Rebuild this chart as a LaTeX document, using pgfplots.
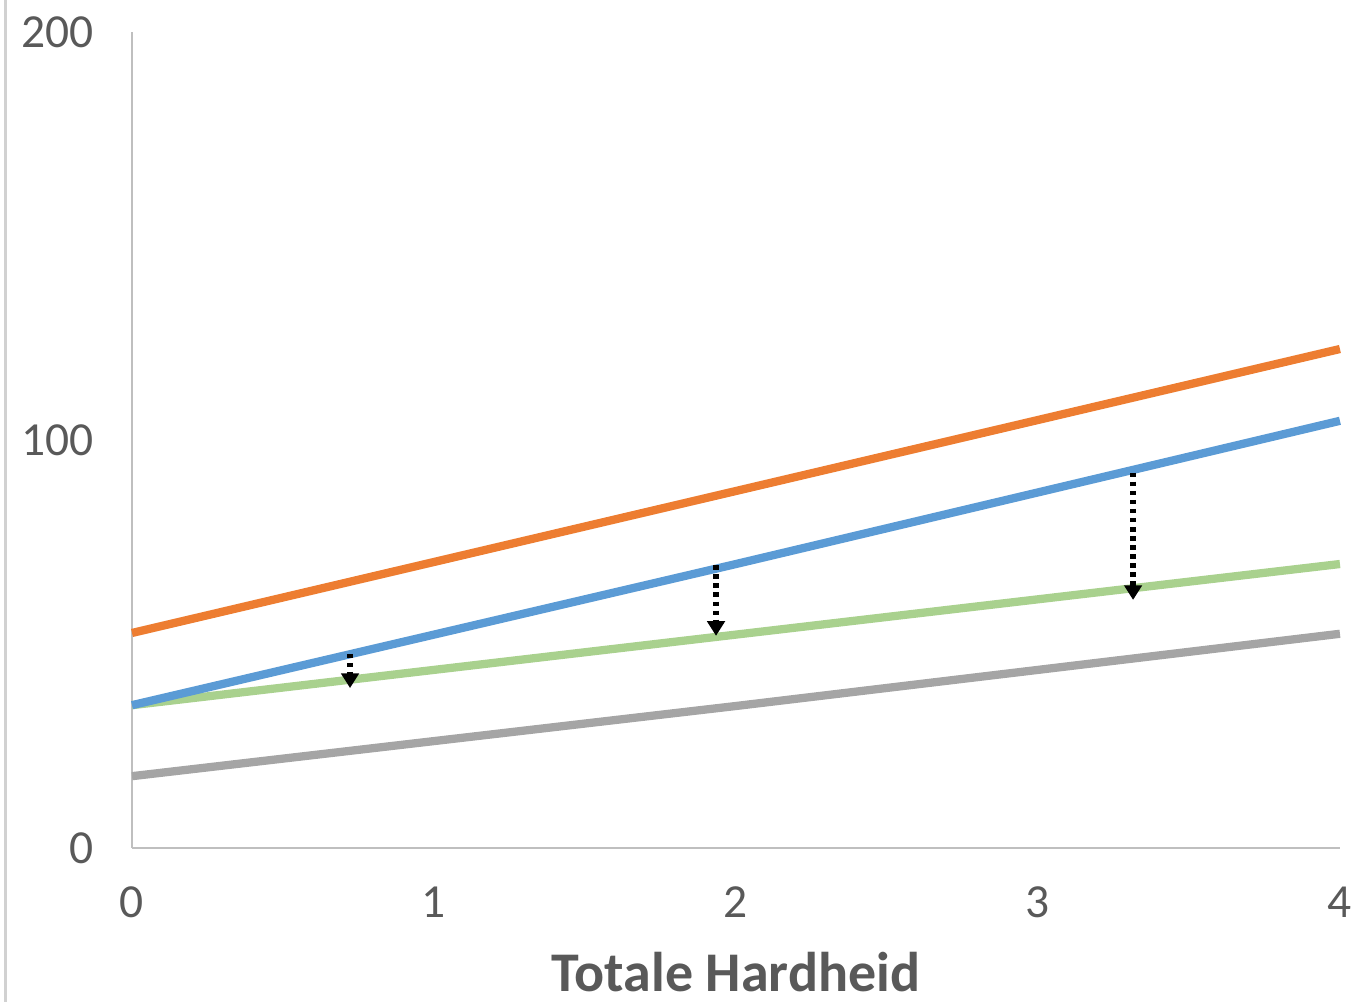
\documentclass[border=0pt]{standalone}
\usepackage{pgfplots}
\pgfplotsset{compat=1.18}
\usepackage{fontspec}
\setmainfont{Carlito}
\usetikzlibrary{arrows.meta}
\definecolor{cOr}{HTML}{ED7D31}
\definecolor{cBl}{HTML}{5B9BD5}
\definecolor{cGr}{HTML}{A9D18E}
\definecolor{cGy}{HTML}{A5A5A5}
\definecolor{txt}{HTML}{595959}
\begin{document}
\begin{tikzpicture}
\path[use as bounding box] (-49.5pt,-57.75pt) rectangle (457.9pt,318pt);
\draw[black!18, line width=1.1pt] (-47.6pt,-57.75pt) -- (-47.6pt,318pt);
\begin{axis}[
  scale only axis, width=453pt, height=306pt,
  xmin=0, xmax=4, ymin=0, ymax=200,
  axis lines=left,
  axis line style={draw=black!25, line width=0.7pt, -},
  xtick={0,1,2,3,4}, ytick={0,100,200},
  major tick length=0pt, tick style={draw=none},
  /pgf/number format/assume math mode=true,
  ticklabel style={font=\fontsize{17.8}{20}\selectfont, text=txt},
  yticklabel style={anchor=east, xshift=-11pt},
  xticklabel style={anchor=north, yshift=-11pt},
  xlabel={Totale Hardheid},
  xlabel style={font=\fontsize{21}{24}\selectfont\bfseries, text=txt, at={(axis description cs:0.5,0)}, anchor=center, yshift=-46.5pt},
  clip=false,
]
\addplot[cGy, line width=3.1pt] coordinates {(0,17.6) (2,34.8) (4,52.5)};
\addplot[cGr, line width=3.1pt] coordinates {(0,35.0) (2,52.3) (4,69.6)};
\addplot[cBl, line width=3.1pt] coordinates {(0,35.0) (2,69.6) (4,104.7)};
\addplot[cOr, line width=3.1pt] coordinates {(0,52.7) (2,87.5) (4,122.3)};
\addplot[black, line width=2pt, dash pattern=on 1.7pt off 1.7pt, -{Triangle[width=6.5pt,length=5.5pt]}] coordinates {(0.722,47.6) (0.722,39.2)};
\addplot[black, line width=2pt, dash pattern=on 1.7pt off 1.7pt, -{Triangle[width=6.5pt,length=5.5pt]}] coordinates {(1.934,69.3) (1.934,52.0)};
\addplot[black, line width=2pt, dash pattern=on 1.7pt off 1.7pt, -{Triangle[width=6.5pt,length=5.5pt]}] coordinates {(3.315,92.0) (3.315,60.8)};
\end{axis}
\end{tikzpicture}
\end{document}
